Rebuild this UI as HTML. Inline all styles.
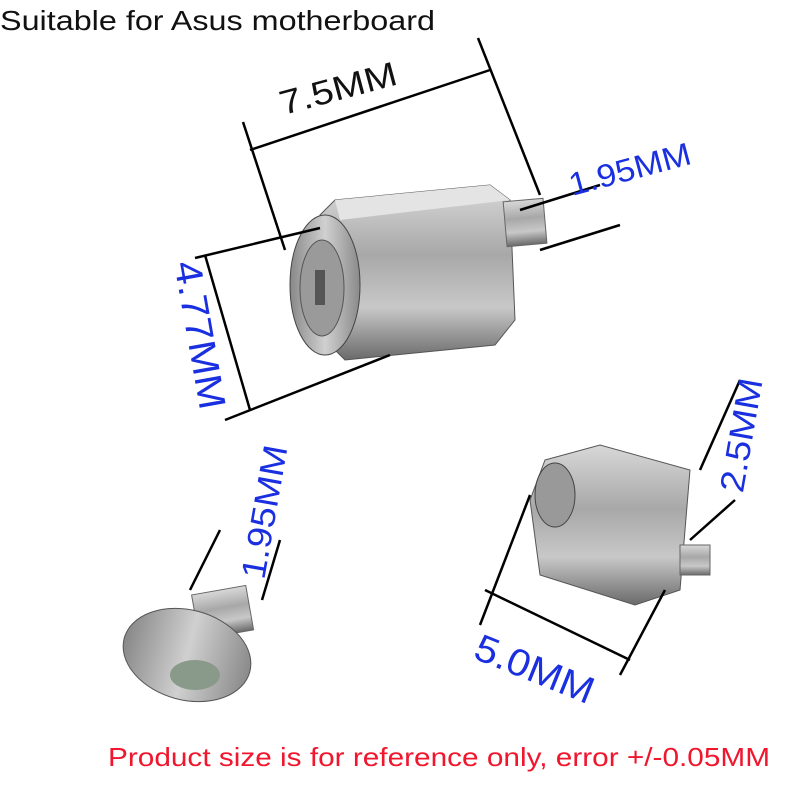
<!DOCTYPE html>
<html><head><meta charset="utf-8"><style>
html,body{margin:0;padding:0;background:#fff;width:800px;height:800px;overflow:hidden}
svg text{font-family:"Liberation Sans",sans-serif}
</style></head><body>
<svg width="800" height="800" viewBox="0 0 800 800" xmlns="http://www.w3.org/2000/svg">
<defs>
<linearGradient id="m" x1="0" y1="0" x2="0" y2="1">
<stop offset="0" stop-color="#d8d8d8"/><stop offset="0.4" stop-color="#a8a8a8"/><stop offset="0.7" stop-color="#c8c8c8"/><stop offset="1" stop-color="#6a6a6a"/></linearGradient>
<linearGradient id="m2" x1="0" y1="0" x2="1" y2="0">
<stop offset="0" stop-color="#888"/><stop offset="0.5" stop-color="#d0d0d0"/><stop offset="1" stop-color="#8a8a8a"/></linearGradient>
</defs>
<rect width="800" height="800" fill="#fff"/>
<text x="0" y="30" font-size="28" fill="#111" textLength="435" lengthAdjust="spacingAndGlyphs">Suitable for Asus motherboard</text>

<polygon points="335,200 490,185 510,200 515,320 495,345 345,360 325,340 320,215" fill="url(#m)" stroke="#555"/>
<polygon points="335,200 490,185 510,200 340,220" fill="#e4e4e4"/>
<rect x="505" y="200" width="40" height="45" fill="url(#m)" stroke="#666" transform="rotate(-5 525 222)"/>
<ellipse cx="325" cy="285" rx="35" ry="70" fill="url(#m2)" stroke="#444"/>
<ellipse cx="322" cy="288" rx="22" ry="48" fill="#9a9a9a" stroke="#555"/>
<rect x="315" y="270" width="10" height="35" fill="#555"/>

<g stroke="#000" stroke-width="2.5" fill="none">
<line x1="250" y1="150" x2="490" y2="70"/>
<line x1="243" y1="122" x2="285" y2="250"/>
<line x1="478" y1="38" x2="540" y2="195"/>
<line x1="195" y1="258" x2="320" y2="228"/>
<line x1="225" y1="420" x2="390" y2="355"/>
<line x1="205" y1="255" x2="250" y2="410"/>
<line x1="520" y1="210" x2="600" y2="185"/>
<line x1="540" y1="250" x2="620" y2="225"/>
</g>
<text x="338" y="100" font-size="34" fill="#111" text-anchor="middle" textLength="120" lengthAdjust="spacingAndGlyphs" transform="rotate(-15 338 88)">7.5MM</text>
<text x="630" y="180" font-size="32" fill="#1a2fe0" text-anchor="middle" textLength="125" lengthAdjust="spacingAndGlyphs" transform="rotate(-15 630 170)">1.95MM</text>
<text x="200" y="348" font-size="38" fill="#1a2fe0" text-anchor="middle" textLength="150" lengthAdjust="spacingAndGlyphs" transform="rotate(80 200 335)">4.77MM</text>

<rect x="195" y="590" width="55" height="45" fill="url(#m)" stroke="#666" transform="rotate(-10 222 612)"/>
<ellipse cx="187" cy="655" rx="65" ry="45" fill="url(#m2)" stroke="#555" transform="rotate(15 187 655)"/>
<ellipse cx="195" cy="675" rx="25" ry="15" fill="#8a9a8a"/>
<g stroke="#000" stroke-width="2.5"><line x1="190" y1="590" x2="220" y2="530"/><line x1="262" y1="600" x2="280" y2="540"/></g>
<text x="265" y="523" font-size="34" fill="#1a2fe0" text-anchor="middle" textLength="135" lengthAdjust="spacingAndGlyphs" transform="rotate(-80 265 512)">1.95MM</text>

<polygon points="545,460 600,445 690,470 680,590 635,605 540,575 530,500" fill="url(#m)" stroke="#555"/>
<ellipse cx="555" cy="495" rx="20" ry="32" fill="#999" stroke="#444"/>
<rect x="680" y="545" width="30" height="30" fill="url(#m)" stroke="#666"/>
<g stroke="#000" stroke-width="2.5">
<line x1="530" y1="495" x2="480" y2="625"/>
<line x1="485" y1="590" x2="630" y2="660"/>
<line x1="665" y1="590" x2="620" y2="675"/>
<line x1="700" y1="470" x2="740" y2="380"/>
<line x1="690" y1="540" x2="735" y2="500"/>
</g>
<text x="745" y="452" font-size="34" fill="#1a2fe0" text-anchor="middle" textLength="115" lengthAdjust="spacingAndGlyphs" transform="rotate(-80 740 440)">2.5MM</text>
<text x="535" y="682" font-size="38" fill="#1a2fe0" text-anchor="middle" textLength="125" lengthAdjust="spacingAndGlyphs" transform="rotate(22 535 668)">5.0MM</text>

<text x="108" y="766" font-size="26" fill="#f0162e" textLength="662" lengthAdjust="spacingAndGlyphs">Product size is for reference only, error +/-0.05MM</text>
</svg>
</body></html>
